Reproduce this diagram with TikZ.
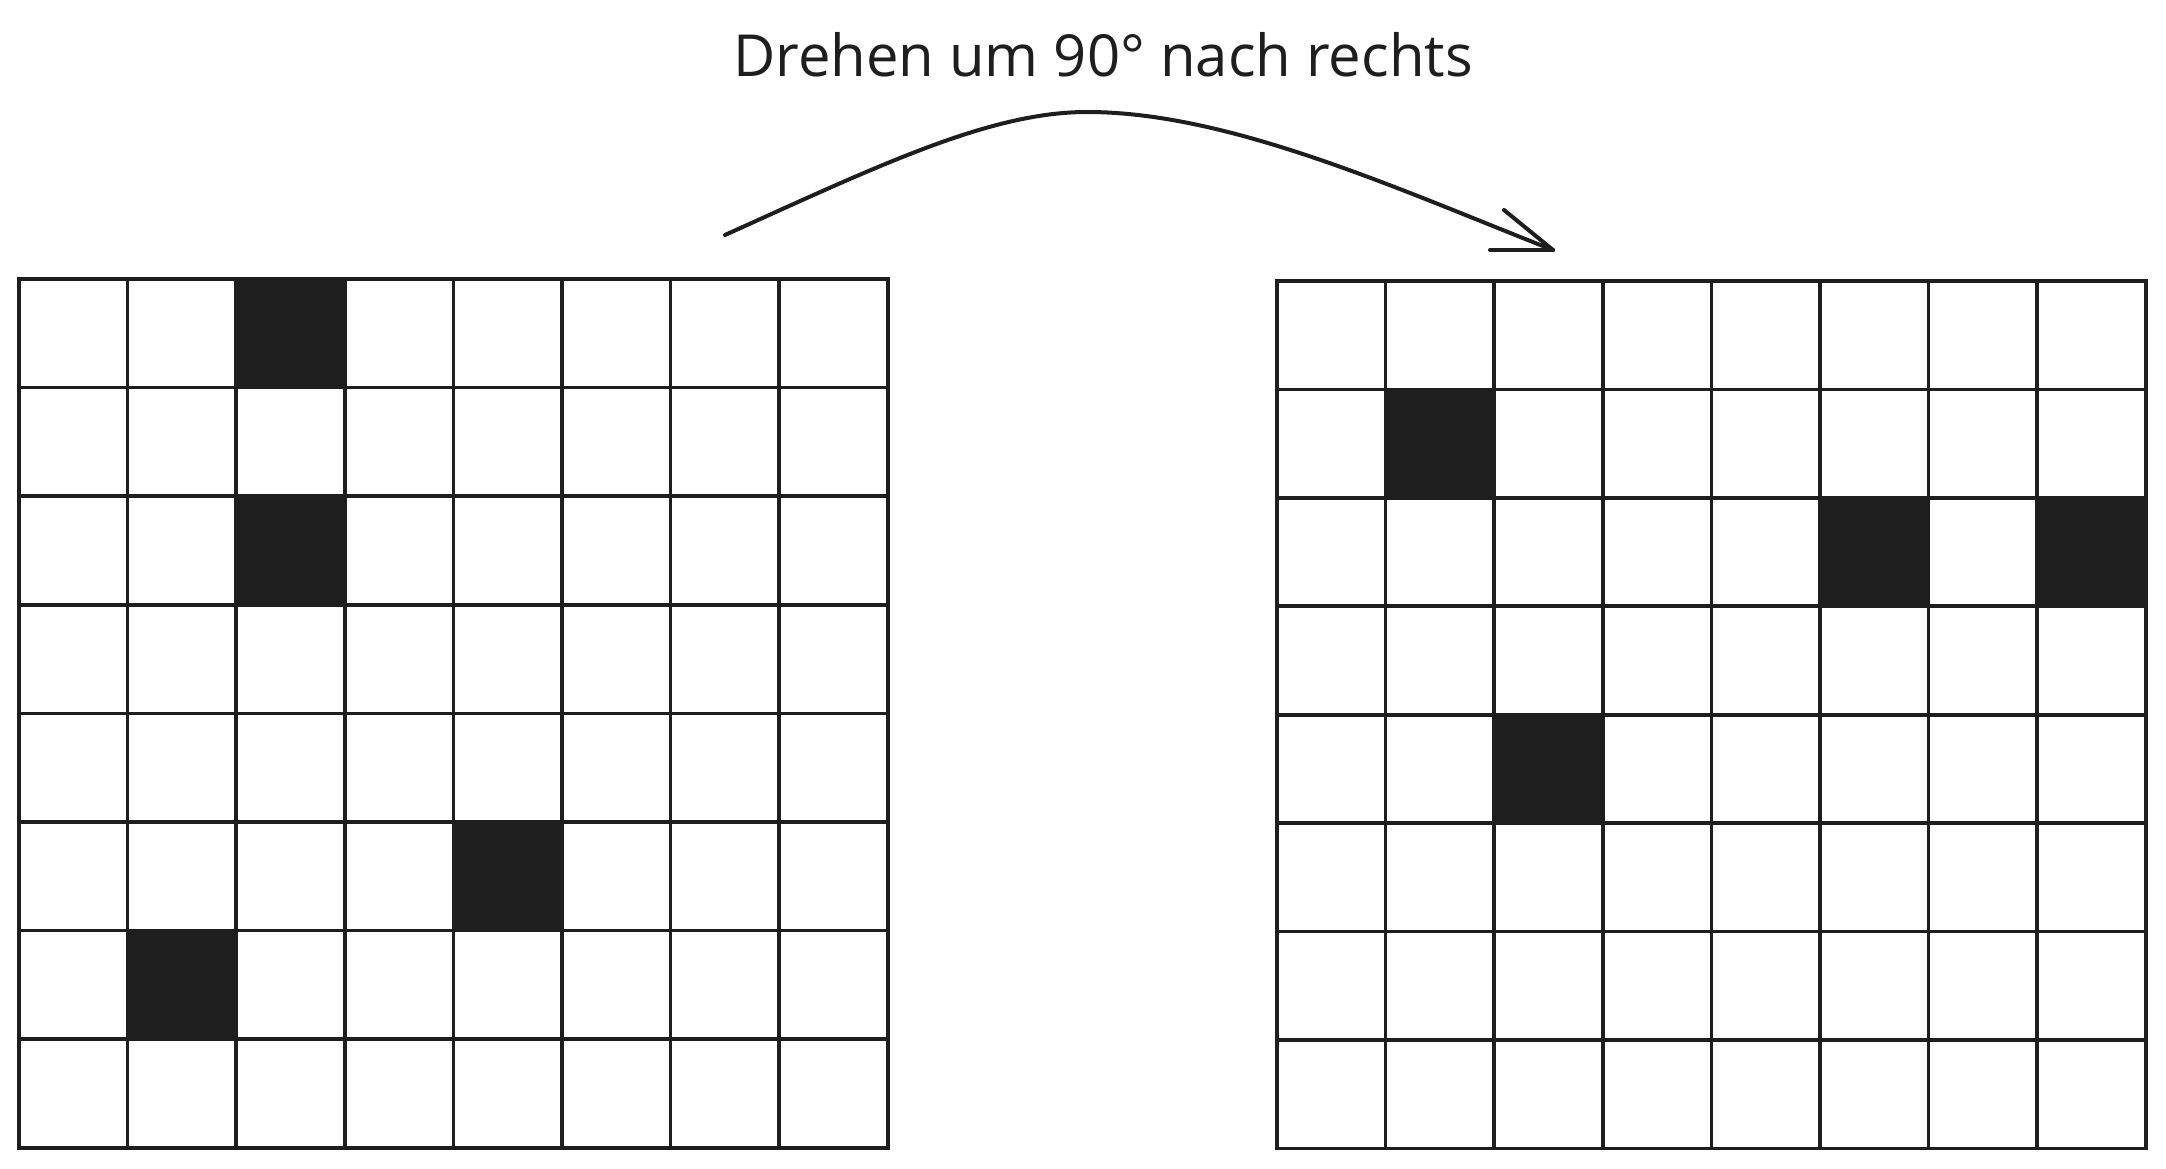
\documentclass[tikz,border=0pt]{standalone}
\usepackage{fontspec}
\setmainfont{Open Sans}
\definecolor{ink}{HTML}{1E1E1E}
\begin{document}
\begin{tikzpicture}[x=1pt,y=-1pt,
  cell/.style={draw=ink,line width=3.6pt,minimum width=108.6pt,minimum height=108.5pt,inner sep=0pt,outer sep=0pt},
  dark/.style={cell,fill=ink},
  conn/.style={draw=ink,line width=4pt,line cap=round,line join=round}]
\useasboundingbox (0,0) rectangle (2166,1169);
% left grid
\foreach \r in {0,...,7}{
  \foreach \c in {0,...,7}{
    \node[cell,anchor=north west] (L-\r-\c) at ({19+108.6*\c},{279+108.6*\r}) {};
  }
}
\foreach \r/\c in {0/2,2/2,5/4,6/1}{
  \node[dark,anchor=north west] at ({19+108.6*\c},{279+108.6*\r}) {};
}
% right grid
\foreach \r in {0,...,7}{
  \foreach \c in {0,...,7}{
    \node[cell,anchor=north west] (R-\r-\c) at ({1277+108.6*\c},{281+108.4*\r}) {};
  }
}
\foreach \r/\c in {1/1,2/5,2/7,4/2}{
  \node[dark,anchor=north west] at ({1277+108.6*\c},{281+108.4*\r}) {};
}
% label
\node[text=ink,font=\fontsize{58}{70}\selectfont] (lbl) at (1103,55) {Drehen um 90° nach rechts};
% arrow
\coordinate (s) at (725,235);
\coordinate (m) at (1087,112);
\coordinate (e) at (1553,250);
\draw[conn] (s) .. controls (880,165) and (990,112) .. (m) .. controls (1230,112) and (1400,190) .. (e);
\draw[conn] (e) -- ++(-49,-40);
\draw[conn] (e) -- ++(-63,0);
\end{tikzpicture}
\end{document}
